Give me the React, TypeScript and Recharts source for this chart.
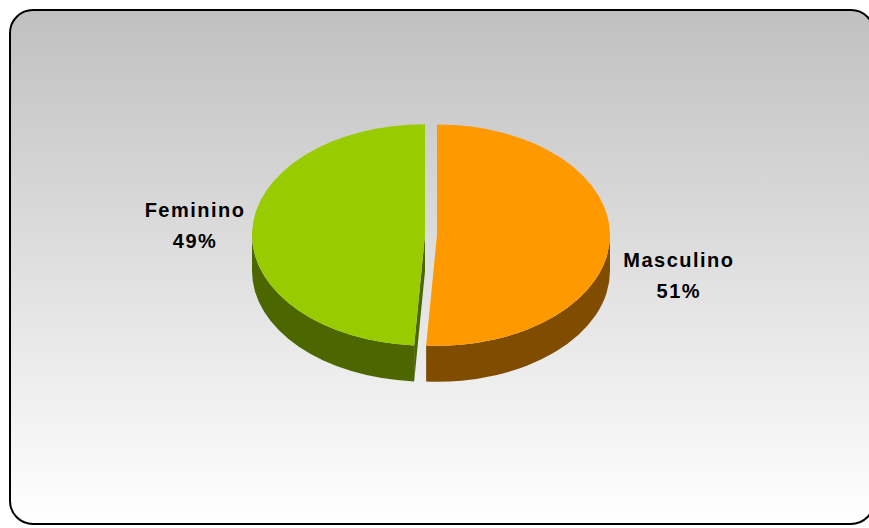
import React from "react";
import { Pie, PieChart } from "recharts";

const categories = ["Masculino", "Feminino"];
const shares = [51, 49];
const topColors = ["#FF9900", "#99CC00"];
const sideColors = ["#7F4C00", "#4C6600"];

const data = categories.map((name, i) => ({ name, value: shares[i] }));

const RY = 0.64; // ellipse squash
const DEPTH = 36;
const EXPLODE = 6;
const FONT = "'Liberation Sans', Arial, sans-serif";

const rad = (d: number) => (d * Math.PI) / 180;

function centre(props: any) {
  const { cx, cy, startAngle, endAngle, outerRadius } = props;
  const mid = (startAngle + endAngle) / 2;
  const rx = outerRadius;
  const ry = outerRadius * RY;
  const ox = cx + EXPLODE * Math.cos(rad(mid));
  const oy = cy - EXPLODE * RY * Math.sin(rad(mid));
  const pt = (a: number, dy = 0): [number, number] => [
    ox + rx * Math.cos(rad(a)),
    oy - ry * Math.sin(rad(a)) + dy,
  ];
  return { ox, oy, rx, ry, pt };
}

function SideShape(props: any) {
  const { startAngle, endAngle, index } = props;
  const { ox, oy, rx, ry, pt } = centre(props);
  const fill = sideColors[index % sideColors.length];
  const parts: React.ReactNode[] = [];

  // radial cut faces facing the viewer
  const cs = Math.cos(rad(startAngle));
  const ce = Math.cos(rad(endAngle));
  const face = (a: number, key: string) => {
    const [x, y] = pt(a);
    parts.push(
      <path
        key={key}
        d={`M${ox},${oy} L${x},${y} L${x},${y + DEPTH} L${ox},${oy + DEPTH} Z`}
        fill={fill}
      />
    );
  };
  if (cs < 0) face(startAngle, "fs");
  if (ce > 0) face(endAngle, "fe");

  // outer wall, front half only
  const lo = Math.min(startAngle, endAngle);
  const hi = Math.max(startAngle, endAngle);
  for (let k = -2; k <= 2; k++) {
    const s = Math.max(lo, 180 + 360 * k);
    const e = Math.min(hi, 360 + 360 * k);
    if (e - s <= 0.01) continue;
    const [x1, y1] = pt(s);
    const [x2, y2] = pt(e);
    parts.push(
      <path
        key={`w${k}`}
        d={`M${x1},${y1} A${rx},${ry} 0 0 0 ${x2},${y2} L${x2},${y2 + DEPTH} A${rx},${ry} 0 0 1 ${x1},${y1 + DEPTH} Z`}
        fill={fill}
      />
    );
  }
  return <g>{parts}</g>;
}

function TopShape(props: any) {
  const { startAngle, endAngle, index } = props;
  const { ox, oy, rx, ry, pt } = centre(props);
  const [x1, y1] = pt(startAngle);
  const [x2, y2] = pt(endAngle);
  const large = Math.abs(startAngle - endAngle) > 180 ? 1 : 0;
  return (
    <path
      d={`M${ox},${oy} L${x1},${y1} A${rx},${ry} 0 ${large} 1 ${x2},${y2} Z`}
      fill={topColors[index % topColors.length]}
    />
  );
}

function renderLabel(props: any) {
  const { cx, cy, midAngle, outerRadius, name, value } = props;
  const right = Math.cos(rad(midAngle)) > 0;
  const x = cx + Math.cos(rad(midAngle)) * (outerRadius + (right ? 75 : 63));
  const y = cy - Math.sin(rad(midAngle)) * outerRadius * RY - 15 + (right ? 44 : 0);
  return (
    <text
      x={x}
      y={y}
      textAnchor="middle"
      fill="#000"
      fontFamily={FONT}
      fontWeight="bold"
      fontSize={20}
      letterSpacing={1.5}
    >
      <tspan x={x}>{name}</tspan>
      <tspan x={x} dy={31}>{`${value}%`}</tspan>
    </text>
  );
}

export default function App() {
  return (
    <div
      style={{
        position: "absolute",
        left: 0,
        top: 0,
        width: 869,
        height: 528,
        overflow: "hidden",
      }}
    >
      <div
        style={{
          position: "absolute",
          left: 9,
          top: 9,
          width: 866,
          height: 516,
          boxSizing: "border-box",
          border: "2px solid #000",
          borderRadius: 24,
          background: "linear-gradient(#c0c0c0, #ffffff)",
        }}
      />
      <div style={{ position: "absolute", left: 0, top: 0 }}>
        <PieChart width={869} height={528} margin={{ top: 0, right: 0, bottom: 0, left: 0 }}>
          <Pie
            data={data}
            dataKey="value"
            nameKey="name"
            cx={431}
            cy={235}
            outerRadius={173}
            startAngle={90}
            endAngle={-270}
            stroke="none"
            shape={SideShape}
            label={false}
            labelLine={false}
            isAnimationActive={false}
          />
          <Pie
            data={data}
            dataKey="value"
            nameKey="name"
            cx={431}
            cy={235}
            outerRadius={173}
            startAngle={90}
            endAngle={-270}
            stroke="none"
            shape={TopShape}
            label={renderLabel}
            labelLine={false}
            isAnimationActive={false}
          />
        </PieChart>
      </div>
    </div>
  );
}
